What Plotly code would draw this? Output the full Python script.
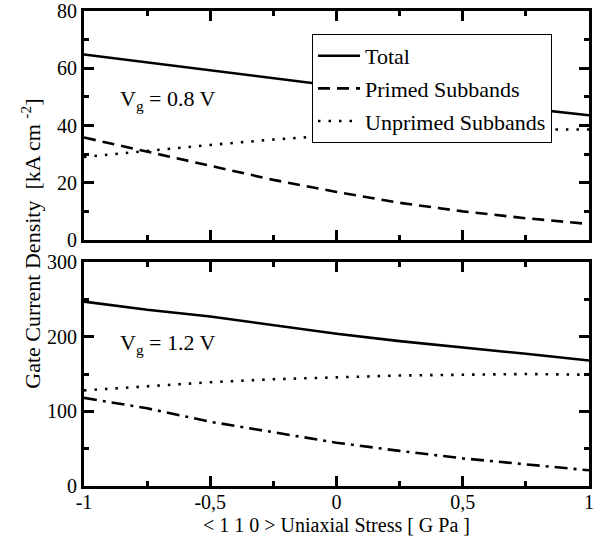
import plotly.graph_objects as go

stress = [-1.0, -0.75, -0.5, -0.25, 0.0, 0.25, 0.5, 0.75, 1.0]

# Vg = 0.8 V  (kA cm^-2)
total_08 = [64.8, 62.0, 59.2, 56.4, 53.7, 51.0, 48.4, 45.9, 43.6]
primed_08 = [35.8, 30.8, 25.8, 21.0, 16.8, 13.0, 10.0, 7.6, 5.6]
unprimed_08 = [29.0, 31.2, 33.2, 35.1, 36.6, 37.6, 38.3, 38.6, 38.6]

# Vg = 1.2 V  (kA cm^-2)
total_12 = [247.0, 236.0, 227.0, 215.0, 204.0, 194.0, 186.0, 177.0, 168.0]
primed_12 = [118.0, 104.0, 86.0, 72.0, 58.0, 47.0, 37.0, 29.0, 21.0]
unprimed_12 = [128.0, 134.0, 139.0, 143.0, 146.0, 148.0, 149.0, 150.0, 149.0]

xtick_vals = [-1, -0.5, 0, 0.5, 1]
xtick_text = ["-1", "-0,5", "0", "0,5", "1"]
ytick_top = [0, 20, 40, 60, 80]
ytick_bot = [0, 100, 200, 300]

FONT = "Liberation Serif, Times New Roman, Times, serif"
LW = 2.6

fig = go.Figure()

fig.add_trace(go.Scatter(x=stress, y=total_08, mode="lines", name="Total",
                         legendgroup="a", line=dict(color="black", width=LW),
                         xaxis="x2", yaxis="y2"))
fig.add_trace(go.Scatter(x=stress, y=primed_08, mode="lines", name="Primed Subbands",
                         legendgroup="b", line=dict(color="black", width=LW, dash="12px,7px"),
                         xaxis="x2", yaxis="y2"))
fig.add_trace(go.Scatter(x=stress, y=unprimed_08, mode="lines", name="Unprimed Subbands",
                         legendgroup="c", line=dict(color="black", width=LW, dash="2.5px,8px"),
                         xaxis="x2", yaxis="y2"))

fig.add_trace(go.Scatter(x=stress, y=total_12, mode="lines", showlegend=False,
                         line=dict(color="black", width=LW), xaxis="x", yaxis="y"))
fig.add_trace(go.Scatter(x=stress, y=unprimed_12, mode="lines", showlegend=False,
                         line=dict(color="black", width=LW, dash="2.5px,8px"), xaxis="x", yaxis="y"))
fig.add_trace(go.Scatter(x=stress, y=primed_12, mode="lines", showlegend=False,
                         line=dict(color="black", width=LW, dash="13px,6px,3px,6px"), xaxis="x", yaxis="y"))

axis_common = dict(showline=True, linewidth=3, linecolor="black", mirror="ticks",
                   ticks="inside", ticklen=10, tickwidth=2.5, tickcolor="black",
                   showgrid=False, zeroline=False, automargin=False,
                   tickfont=dict(family=FONT, size=20, color="black"))

fig.update_layout(
    width=606, height=540,
    margin=dict(l=84, r=17, t=11, b=54, autoexpand=False),
    paper_bgcolor="white", plot_bgcolor="white",
    font=dict(family=FONT, color="black"),
    xaxis=dict(domain=[0, 1], range=[-1, 1], anchor="y",
               tickvals=xtick_vals, ticktext=xtick_text, ticklabelstandoff=-4,
               minor=dict(dtick=0.25, ticks="inside", ticklen=5, tickwidth=2.5, tickcolor="black"),
               **axis_common),
    yaxis=dict(domain=[0, 0.4716], range=[0, 300], anchor="x",
               tickvals=ytick_bot,
               minor=dict(dtick=50, ticks="inside", ticklen=5, tickwidth=2.5, tickcolor="black"),
               **axis_common),
    xaxis2=dict(domain=[0, 1], range=[-1, 1], anchor="y2",
                tickvals=xtick_vals, showticklabels=False,
                minor=dict(dtick=0.25, ticks="inside", ticklen=5, tickwidth=2.5, tickcolor="black"),
                **axis_common),
    yaxis2=dict(domain=[0.5179, 1], range=[0, 80], anchor="x2",
                tickvals=ytick_top,
                minor=dict(dtick=10, ticks="inside", ticklen=5, tickwidth=2.5, tickcolor="black"),
                **axis_common),
    legend=dict(x=0.4515, y=0.9516, xanchor="left", yanchor="top",
                bordercolor="black", borderwidth=1, bgcolor="white",
                font=dict(family=FONT, size=22, color="black"),
                tracegroupgap=1, itemwidth=42),
    showlegend=True,
)

fig.add_annotation(text="V<sub>g</sub> = 0.8 V", xref="x2", yref="y2", x=-0.865, y=49,
                   xanchor="left", yanchor="middle", showarrow=False,
                   font=dict(family=FONT, size=22, color="black"))
fig.add_annotation(text="V<sub>g</sub> = 1.2 V", xref="x", yref="y", x=-0.865, y=190,
                   xanchor="left", yanchor="middle", showarrow=False,
                   font=dict(family=FONT, size=22, color="black"))
fig.add_annotation(text="Gate Current Density  [kA cm <sup>-2</sup>]", xref="paper", yref="paper",
                   x=-0.104, y=0.511, xanchor="center", yanchor="middle", textangle=-90,
                   showarrow=False, font=dict(family=FONT, size=22, color="black"))
fig.add_annotation(text="&lt; 1 1 0 &gt; Uniaxial Stress [ G Pa ]", xref="paper", yref="paper",
                   x=0.5, y=-0.0821, xanchor="center", yanchor="middle",
                   showarrow=False, font=dict(family=FONT, size=20, color="black"))

fig.write_html("out.html", config={"displayModeBar": False},
               post_script="document.body.style.margin='0';")
